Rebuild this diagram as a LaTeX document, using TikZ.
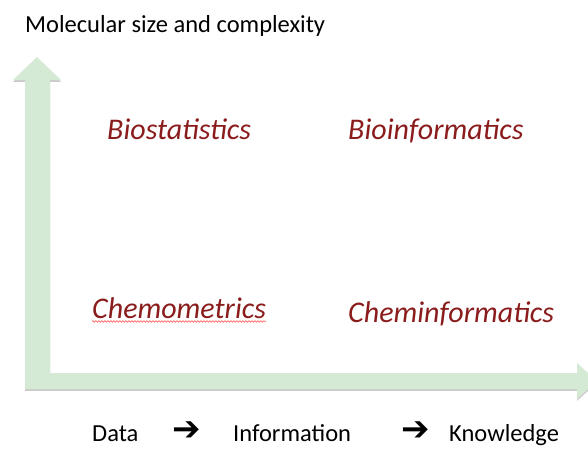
\documentclass[tikz,border=0pt]{standalone}
\usepackage{fontspec}
\setmainfont{Carlito}
\newfontfamily\symfont{DejaVu Sans}
\usetikzlibrary{decorations.pathmorphing}
\definecolor{axisgreen}{HTML}{D5EAD4}
\definecolor{fieldred}{HTML}{8A1C1C}
\begin{document}
\begin{tikzpicture}[x=1pt,y=-1pt,
  axis/.style={fill=axisgreen,draw=none},
  axisshadow/.style={fill=black!45,opacity=0.45,draw=none},
  field/.style={inner sep=0pt,anchor=base west,text=fieldred,font=\fontsize{30}{36}\selectfont\itshape},
  caption/.style={inner sep=0pt,anchor=base west,font=\fontsize{24.5}{29}\selectfont},
  flow/.style={inner sep=0pt,anchor=base west,font=\fontsize{34}{38}\selectfont\symfont\bfseries}]
\useasboundingbox (0,0) rectangle (588,448);
\begin{scope}
\clip (0,0) rectangle (588,448);
% soft shadow under the L-shaped axes
\fill[axisshadow,shift={(0,1.8)}] (25,80) -- (13,80) -- (37,57) -- (61,80) -- (50,80) -- (50,373)
  -- (577,373) -- (577,363) -- (597,381) -- (577,399) -- (577,389) -- (25,389) -- cycle;
% the axes as one block arrow outline
\fill[axis] (25,80) -- (13,80) -- (37,57) -- (61,80) -- (50,80) -- (50,373)
  -- (577,373) -- (577,363) -- (597,381) -- (577,399) -- (577,389) -- (25,389) -- cycle;
\end{scope}
% axis title
\node[caption] (ytitle) at (25,32) {Molecular size and complexity};
% the four fields
\node[field] (biostat) at (107,139) {Biostatistics};
\node[field] (bioinf) at (348,139) {Bioinformatics};
\node[field] (chemo) at (92,318) {Chemometrics};
\node[field] (cheminf) at (348,322) {Cheminformatics};
\draw[red!80,line width=0.5pt,decorate,decoration={snake,amplitude=0.8pt,segment length=3pt}]
  ([yshift=-3pt]chemo.south west) -- ([yshift=-3pt]chemo.south east);
% progression along the horizontal axis
\node[caption] (data) at (92,441) {Data};
\node[flow] (arr1) at (172,440) {➔};
\node[caption] (info) at (233,441) {Information};
\node[flow] (arr2) at (401,440) {➔};
\node[caption] (know) at (449,441) {Knowledge};
\end{tikzpicture}
\end{document}
